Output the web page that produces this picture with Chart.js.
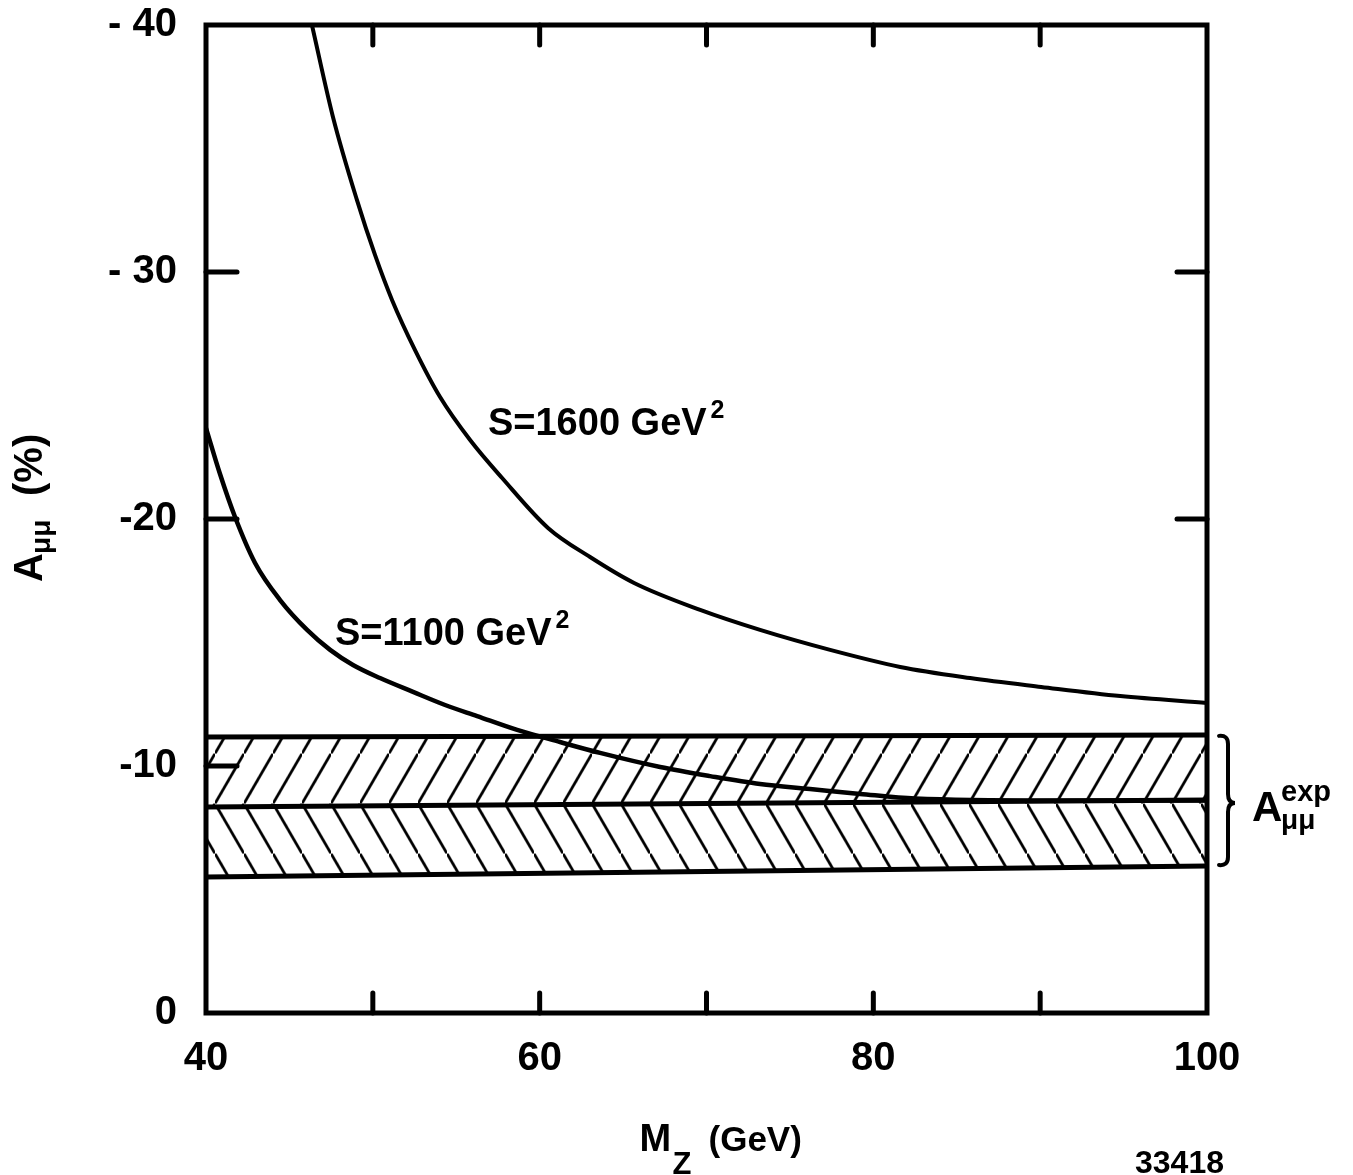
<!DOCTYPE html>
<html>
<head>
<meta charset="utf-8">
<script src="https://cdn.jsdelivr.net/npm/chart.js@4.4.1/dist/chart.umd.min.js"></script>
<style>
html,body{margin:0;padding:0;background:#fff;}
#wrap{position:relative;width:1353px;height:1175px;background:#fff;}
</style>
</head>
<body>
<div id="wrap"><canvas id="c" width="1353" height="1175"></canvas></div>
<script>
// ---- data ----
const xTickValues = [40, 60, 80, 100];
const xInnerTicks = [50, 60, 70, 80, 90];
const yTickLabels = {'-40': '- 40', '-30': '- 30', '-20': '-20', '-10': '-10', '0': '0'};
const yInnerTicksLeft = [-30, -20, -10];
const yInnerTicksRight = [-30, -20];

const mass1600 = [46.35, 47.61, 49.05, 50.13, 51.15, 52.53, 54.03, 55.83, 57.75, 60.5, 63.02, 65.66, 69.62, 73.21, 77.41, 81.61, 85.8, 90.06, 94.8, 100];
const asym1600 = [-40, -36.28, -32.91, -30.69, -28.87, -26.84, -24.94, -23.2, -21.66, -19.64, -18.46, -17.41, -16.32, -15.51, -14.7, -14.01, -13.56, -13.2, -12.83, -12.55];

const mass1100 = [40, 40.84, 41.74, 42.94, 44.44, 46.06, 47.44, 48.81, 50.43, 52.41, 54.33, 56.25, 58.65, 61.22, 63.62, 67.22, 70.22, 73.21, 76.21, 79.21, 82.5, 90.6, 100];
const asym1100 = [-23.68, -21.82, -20.08, -18.22, -16.72, -15.51, -14.7, -14.09, -13.56, -13.0, -12.47, -12.02, -11.46, -10.97, -10.53, -9.96, -9.59, -9.27, -9.07, -8.87, -8.68, -8.6, -8.6];

const bandMass = [40, 100];
const bandUpper = [-11.17, -11.26];
const bandCentral = [-8.34, -8.62];
const bandLower = [-5.51, -5.95];

const curveLabels = [
  {text: 'S=1600 GeV', sup: '2', m: 56.9, a: -23.4},
  {text: 'S=1100 GeV', sup: '2', m: 47.73, a: -14.9}
];

// ---- helpers ----
const FONT = "'Liberation Sans', Arial, sans-serif";
const pts = (xs, ys) => xs.map((x, i) => ({x: x, y: ys[i]}));

function makeHatch(dir, W, H, lw) {
  const c = document.createElement('canvas');
  c.width = W; c.height = H;
  const g = c.getContext('2d');
  g.strokeStyle = '#000';
  g.lineWidth = lw;
  for (let k = -1; k <= 1; k++) {
    g.beginPath();
    if (dir === '/') {
      g.moveTo(k * W, H - k * H);
      g.lineTo((k + 1) * W, -k * H);
    } else {
      g.moveTo(k * W, k * H);
      g.lineTo((k + 1) * W, (k + 1) * H);
    }
    g.stroke();
  }
  return g.createPattern(c, 'repeat');
}
const hatchUp = makeHatch('/', 29, 50, 2.8);
const hatchDown = makeHatch('\\', 29, 50, 2.8);

const decorPlugin = {
  id: 'decor',
  beforeDraw(chart) {
    const {chartArea, scales: {y}} = chart;
    const midY = (y.getPixelForValue(bandCentral[0]) + y.getPixelForValue(bandCentral[1])) / 2;
    const m = new DOMMatrix().translate(chartArea.left + 9, midY);
    hatchUp.setTransform(m);
    hatchDown.setTransform(m);
  },
  afterDraw(chart) {
    const {ctx, chartArea: {left, right, top, bottom}, scales: {x, y}} = chart;
    ctx.save();
    ctx.strokeStyle = '#000';
    ctx.fillStyle = '#000';
    const line = (x1, y1, x2, y2) => { ctx.beginPath(); ctx.moveTo(x1, y1); ctx.lineTo(x2, y2); ctx.stroke(); };
    // inward ticks
    ctx.lineWidth = 5;
    ctx.lineCap = 'round';
    xInnerTicks.forEach(v => {
      const px = x.getPixelForValue(v);
      line(px, top, px, top + 20);
      line(px, bottom, px, bottom - 20);
    });
    yInnerTicksLeft.forEach(v => { const py = y.getPixelForValue(v); line(left, py, left + 31, py); });
    yInnerTicksRight.forEach(v => { const py = y.getPixelForValue(v); line(right, py, right - 30, py); });
    // frame
    ctx.lineCap = 'butt';
    ctx.lineJoin = 'miter';
    ctx.lineWidth = 5;
    ctx.strokeRect(left, top, right - left, bottom - top);

    // curve labels
    ctx.textBaseline = 'alphabetic';
    ctx.textAlign = 'left';
    curveLabels.forEach(l => {
      const px = x.getPixelForValue(l.m), py = y.getPixelForValue(l.a);
      ctx.font = 'bold 38px ' + FONT;
      ctx.fillText(l.text, px, py);
      const w = ctx.measureText(l.text).width;
      ctx.font = 'bold 25px ' + FONT;
      ctx.fillText(l.sup, px + w + 4, py - 17);
    });

    // brace + A_mumu^exp
    const yTop = y.getPixelForValue(bandUpper[1]);
    const yBot = y.getPixelForValue(bandLower[1]);
    const yMid = y.getPixelForValue(bandCentral[1]) + 3;
    const xL = right + 12, xM = right + 21, xR = right + 28;
    ctx.lineWidth = 4;
    ctx.lineCap = 'round';
    ctx.beginPath();
    ctx.moveTo(xL, yTop + 1);
    ctx.quadraticCurveTo(xM, yTop, xM, yTop + 9);
    ctx.lineTo(xM, yMid - 9);
    ctx.quadraticCurveTo(xM, yMid, xR, yMid);
    ctx.quadraticCurveTo(xM, yMid, xM, yMid + 9);
    ctx.lineTo(xM, yBot - 9);
    ctx.quadraticCurveTo(xM, yBot, xL, yBot - 1);
    ctx.stroke();

    const ax = right + 45, ab = yMid + 18;
    ctx.font = 'bold 42px ' + FONT;
    ctx.fillText('A', ax, ab);
    ctx.font = 'bold 29px ' + FONT;
    ctx.fillText('exp', ax + 29, ab - 20);
    ctx.font = 'bold 28px ' + FONT;
    ctx.fillText('\u03bc\u03bc', ax + 29, ab + 8);

    // x axis title
    const cx = (left + right) / 2;
    ctx.font = 'bold 38px ' + FONT;
    ctx.fillText('M', cx - 67, bottom + 138);
    ctx.font = 'bold 31px ' + FONT;
    ctx.fillText('Z', cx - 34, bottom + 161);
    ctx.font = 'bold 35px ' + FONT;
    ctx.fillText('(GeV)', cx + 2, bottom + 138);

    // y axis title (rotated)
    ctx.save();
    ctx.translate(42, (top + bottom) / 2 + 63);
    ctx.rotate(-Math.PI / 2);
    ctx.font = 'bold 40px ' + FONT;
    ctx.fillText('A', 0, 0);
    ctx.font = 'bold 28px ' + FONT;
    ctx.fillText('\u03bc\u03bc', 28, 8);
    ctx.font = 'bold 40px ' + FONT;
    ctx.fillText('(%)', 86, 0);
    ctx.restore();

    // figure number
    ctx.font = 'bold 32px ' + FONT;
    ctx.fillText('33418', right - 72, bottom + 160);
    ctx.restore();
  }
};

const black = '#000';
new Chart(document.getElementById('c'), {
  type: 'line',
  data: {
    datasets: [
      {data: pts(bandMass, bandUpper), borderColor: black, borderWidth: 5, pointRadius: 0, fill: '+1', backgroundColor: hatchUp, tension: 0},
      {data: pts(bandMass, bandCentral), borderColor: black, borderWidth: 5, pointRadius: 0, fill: '+1', backgroundColor: hatchDown, tension: 0},
      {data: pts(bandMass, bandLower), borderColor: black, borderWidth: 5, pointRadius: 0, fill: false, tension: 0},
      {data: pts(mass1600, asym1600), borderColor: black, borderWidth: 4, pointRadius: 0, fill: false, cubicInterpolationMode: 'monotone'},
      {data: pts(mass1100, asym1100), borderColor: black, borderWidth: 4.5, pointRadius: 0, fill: false, cubicInterpolationMode: 'monotone'}
    ]
  },
  options: {
    responsive: false,
    animation: false,
    events: [],
    layout: {padding: {top: 25, right: 146, bottom: 0, left: 0}},
    plugins: {
      legend: {display: false},
      tooltip: {enabled: false},
      filler: {drawTime: 'beforeDatasetsDraw'}
    },
    scales: {
      x: {
        type: 'linear', min: 40, max: 100,
        grid: {display: false, drawTicks: false},
        border: {display: false},
        afterBuildTicks: s => { s.ticks = xTickValues.map(v => ({value: v})); },
        ticks: {padding: 22, color: black, font: {family: FONT, size: 40, weight: 'bold'}},
        afterFit: s => { s.height = 162; s.paddingLeft = 0; s.paddingRight = 0; }
      },
      y: {
        type: 'linear', min: -40, max: 0, reverse: true,
        grid: {display: false, drawTicks: false},
        border: {display: false},
        ticks: {stepSize: 10, padding: 29, color: black, font: {family: FONT, size: 40, weight: 'bold'},
          callback: v => (yTickLabels[String(v)] !== undefined ? yTickLabels[String(v)] : String(v))},
        afterFit: s => { s.width = 206; s.paddingTop = 0; s.paddingBottom = 0; }
      }
    }
  },
  plugins: [decorPlugin]
});
</script>
</body>
</html>
